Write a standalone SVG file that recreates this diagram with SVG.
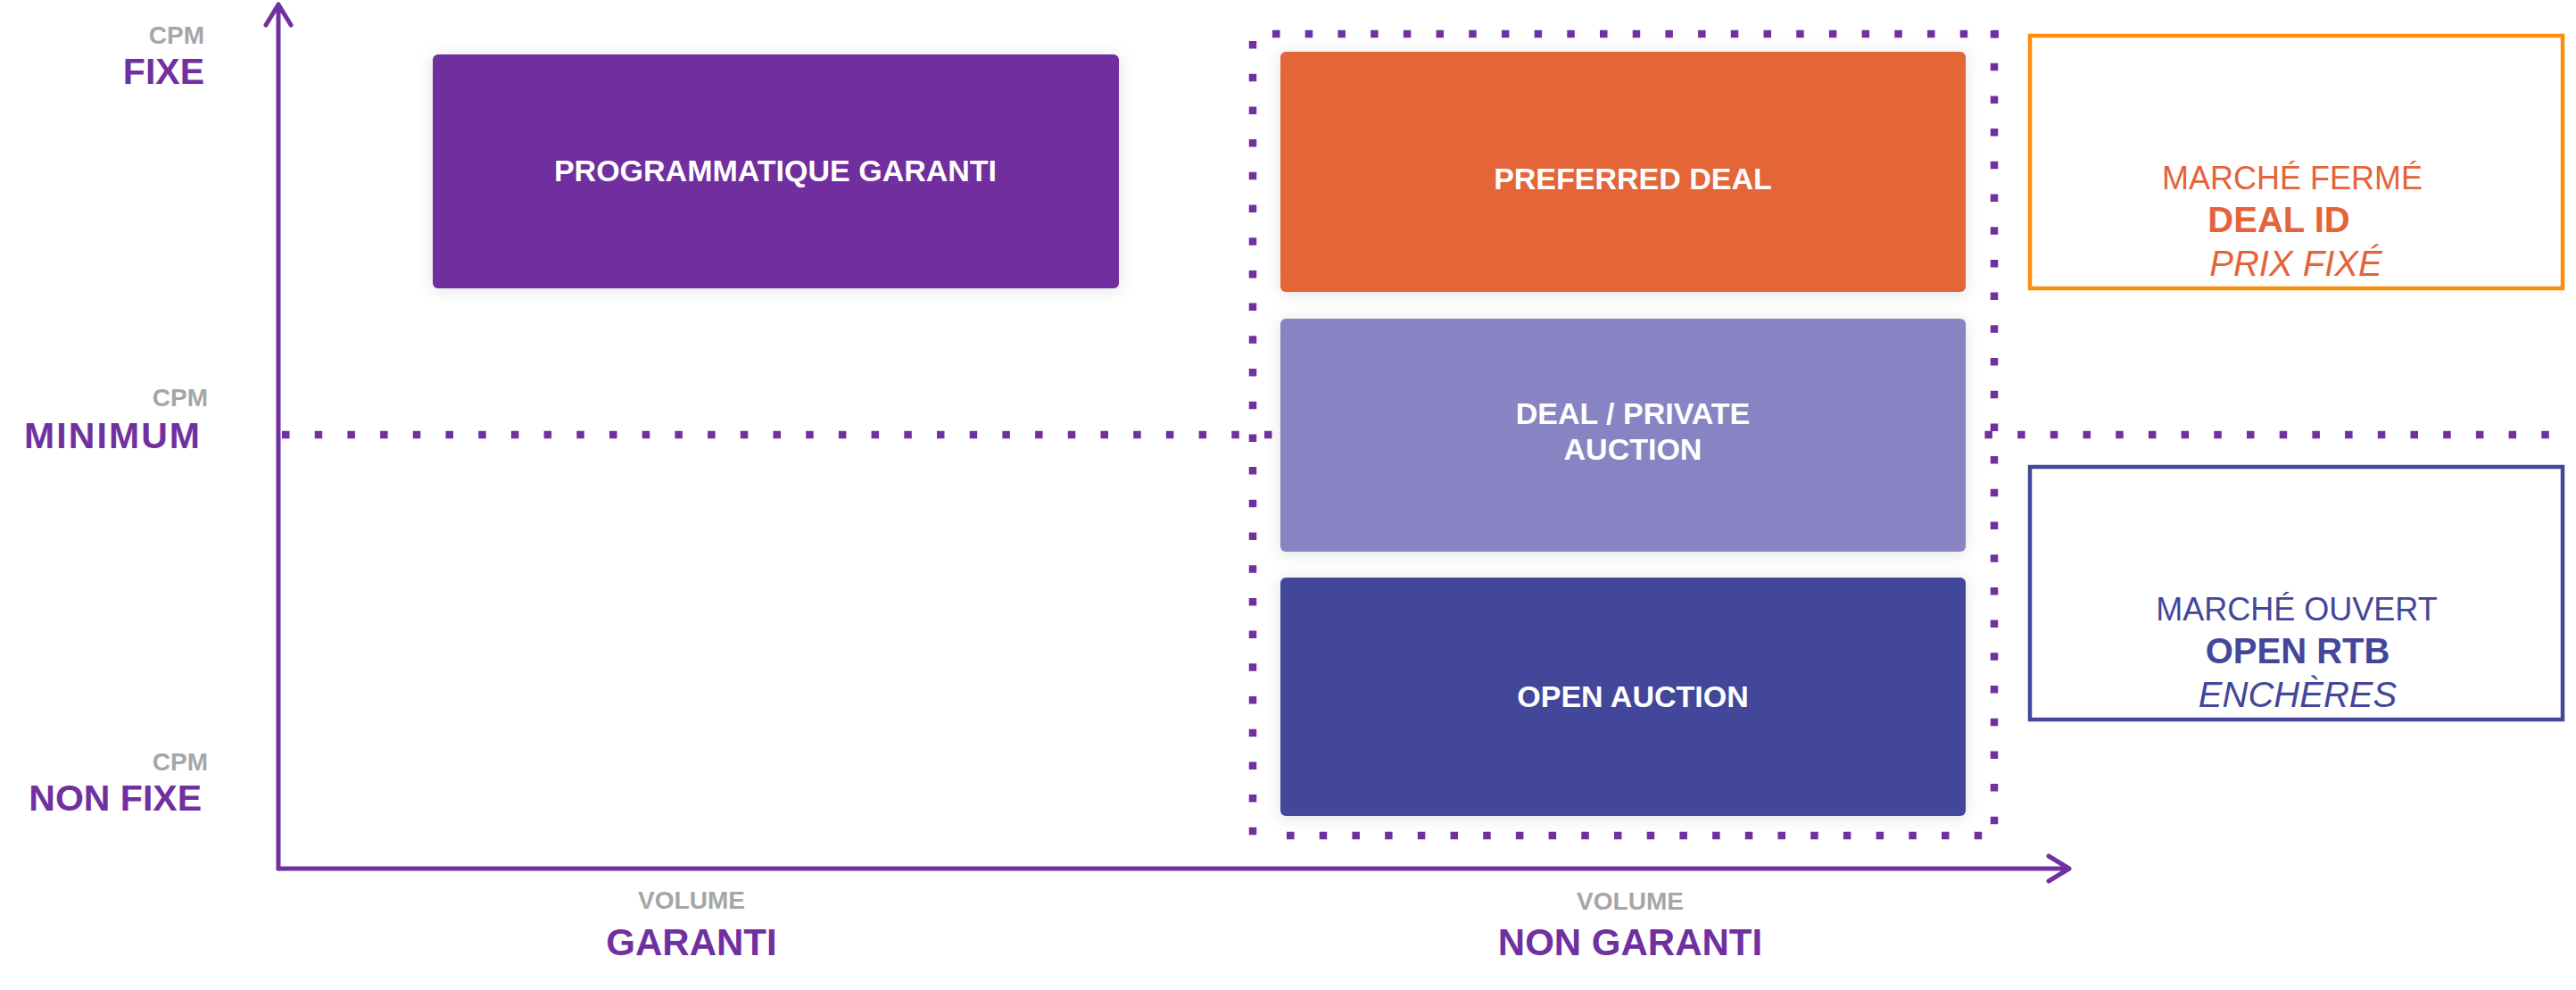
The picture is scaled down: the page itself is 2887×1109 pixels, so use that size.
<svg xmlns="http://www.w3.org/2000/svg" width="2887" height="1109" viewBox="0 0 2887 1109">
<defs>
<style>
text{font-family:"Liberation Sans",Arial,sans-serif}
.cpm{font-size:28px;font-weight:bold;fill:#a6a6a6}
.lab{font-size:41px;font-weight:bold;fill:#7030a0}
.box{font-size:34px;font-weight:bold;fill:#ffffff;text-anchor:middle}
.axis{stroke:#7030a0;stroke-width:5;fill:none;stroke-linecap:round;stroke-linejoin:round}
.dot{stroke:#7030a0;stroke-width:8.5;fill:none;stroke-dasharray:8.5 28.2}
.mid{text-anchor:middle}
.reg{font-size:36px}
.big{font-size:40px;font-weight:bold}
.it{font-size:40px;font-style:italic}
</style>
<filter id="sh" x="-10%" y="-20%" width="120%" height="140%">
<feDropShadow dx="0" dy="2" stdDeviation="9" flood-color="#000" flood-opacity="0.12"/>
</filter>
</defs>
<rect width="2887" height="1109" fill="#ffffff"/>

<g id="connectors">
<path class="dot" d="M316 487 H2866"/>
<path class="axis" d="M312 973 V5 M298 28 L312 5 L326 28"/>
<path class="axis" d="M312 973 H2319 M2296 959 L2319 973 L2296 987"/>
</g>

<g id="frame-non-garanti">
<path class="dot" d="M1426 38 H2240"/>
<path class="dot" d="M1404 46 V940"/>
<path class="dot" d="M2235 34 V940"/>
<path class="dot" d="M1442 936 H2240"/>
</g>

<g id="axis-labels">
<text class="cpm" x="229" y="49" text-anchor="end">CPM</text>
<text class="lab" x="229" y="94" text-anchor="end">FIXE</text>
<text class="cpm" x="233" y="455" text-anchor="end">CPM</text>
<text class="lab" x="27" y="502" textLength="197" lengthAdjust="spacing">MINIMUM</text>
<text class="cpm" x="233" y="863" text-anchor="end">CPM</text>
<text class="lab" x="226" y="908" text-anchor="end">NON FIXE</text>
<text class="cpm mid" x="775" y="1018">VOLUME</text>
<text class="lab mid" x="775" y="1070" style="font-size:42px">GARANTI</text>
<text class="cpm mid" x="1827" y="1019">VOLUME</text>
<text class="lab mid" x="1827" y="1070" style="font-size:42px">NON GARANTI</text>
</g>

<g id="programmatique-garanti">
<rect x="485" y="61" width="769" height="262" rx="6" fill="#6f2f9e" filter="url(#sh)"/>
<text class="box" x="869" y="203">PROGRAMMATIQUE GARANTI</text>
</g>

<g id="preferred-deal">
<rect x="1435" y="58" width="768" height="269" rx="6" fill="#e36538" filter="url(#sh)"/>
<text class="box" x="1830" y="212">PREFERRED DEAL</text>
</g>

<g id="deal-private-auction">
<rect x="1435" y="357" width="768" height="261" rx="6" fill="#8884c4" filter="url(#sh)"/>
<text class="box" x="1830" y="475">DEAL / PRIVATE</text>
<text class="box" x="1830" y="515">AUCTION</text>
</g>

<g id="open-auction">
<rect x="1435" y="647" width="768" height="267" rx="6" fill="#434699" filter="url(#sh)"/>
<text class="box" x="1830" y="792">OPEN AUCTION</text>
</g>

<g id="marche-ferme">
<rect x="2275" y="40" width="597" height="283" fill="#ffffff" stroke="#ff8c0a" stroke-width="4.5"/>
<text class="reg mid" x="2569" y="212" fill="#e4643a">MARCHÉ FERMÉ</text>
<text class="big mid" x="2554" y="260" fill="#e4643a">DEAL ID</text>
<text class="it mid" x="2573" y="309" fill="#e4643a">PRIX FIXÉ</text>
</g>

<g id="marche-ouvert">
<rect x="2275" y="523" width="597" height="283" fill="#ffffff" stroke="#434699" stroke-width="4.5"/>
<text class="reg mid" x="2574" y="695" fill="#434699">MARCHÉ OUVERT</text>
<text class="big mid" x="2575" y="743" fill="#434699">OPEN RTB</text>
<text class="it mid" x="2575" y="792" fill="#434699">ENCHÈRES</text>
</g>
</svg>
